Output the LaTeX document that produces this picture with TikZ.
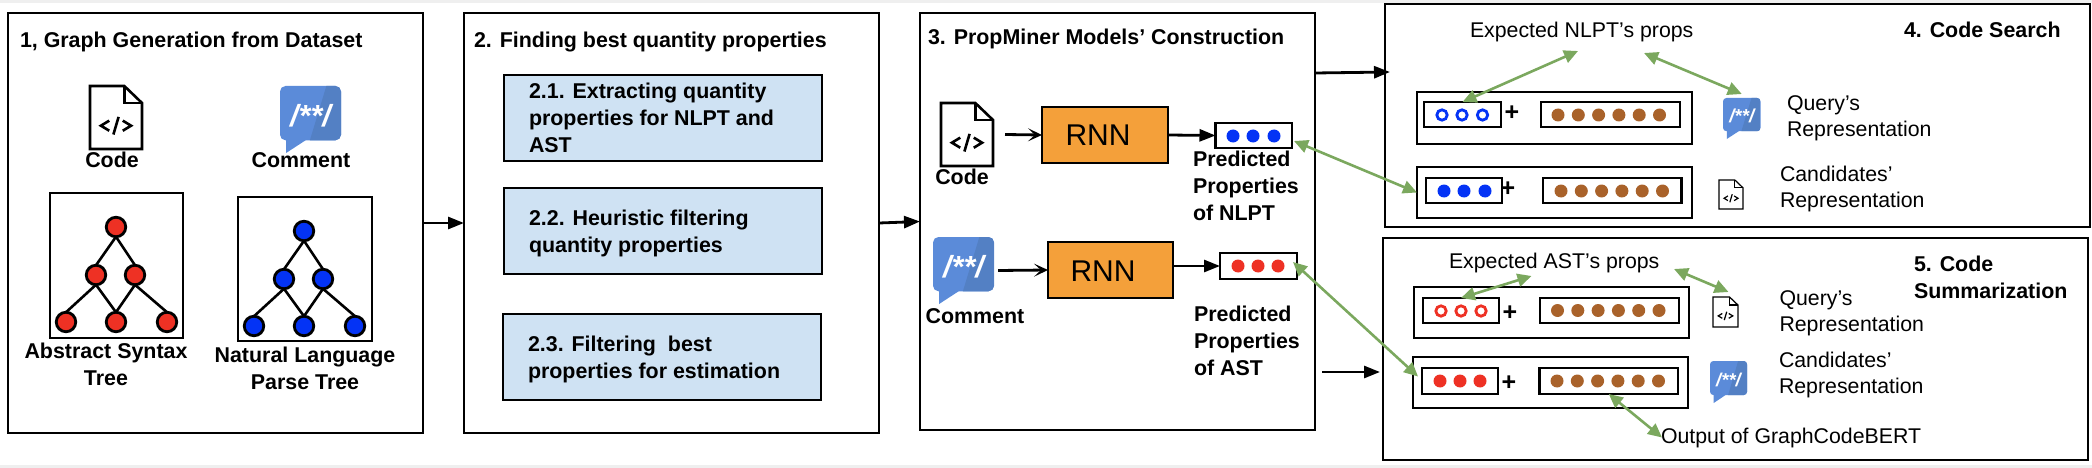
\documentclass[tikz,border=0pt]{standalone}
\usepackage{fontspec}
\setmainfont{Liberation Sans}
\usetikzlibrary{arrows.meta,calc,fit}
\definecolor{edgegrey}{HTML}{EFEFEF}
\definecolor{stepblue}{HTML}{CFE2F3}
\definecolor{rnnorange}{HTML}{F4A03A}
\definecolor{astred}{HTML}{EE3124}
\definecolor{nlptblue}{HTML}{0433F5}
\definecolor{bertbrown}{HTML}{A9622A}
\definecolor{linkgreen}{HTML}{7BA85E}
\definecolor{iconblue}{HTML}{5B8BD9}
\definecolor{icondark}{HTML}{5380C4}
\tikzset{
  bx/.style={draw=black,line width=2.8pt,inner sep=0pt,outer sep=0pt,rectangle},
  bt/.style={font=\fontsize{21.4}{26.7}\selectfont\bfseries,anchor=base west,inner sep=0pt,outer sep=0pt,align=left},
  rt/.style={font=\fontsize{21.3}{26}\selectfont,anchor=base west,inner sep=0pt,outer sep=0pt,align=left},
  plus/.style={font=\fontsize{25}{25}\selectfont\bfseries,anchor=center,inner sep=0pt,outer sep=0pt},
  treedot/.style={circle,draw=black,line width=2.8pt,minimum size=19.5pt,inner sep=0pt,outer sep=0pt},
  treeline/.style={line width=2.6pt,black},
  flow/.style={line width=2.8pt,-{Triangle[length=16pt,width=12pt]}},
  feed/.style={line width=2.8pt,-{Stealth[length=14pt,width=13pt,inset=7pt]}},
  link/.style={line width=2.6pt,linkgreen,{Triangle[length=14pt,width=13pt]}-{Triangle[length=14pt,width=13pt]}},
}
% box given by its corners
\newcommand\bxat[6][]{\node[bx,#1,fit={(#3,#4) (#5,#6)}] (#2) {};}
% document icon
\newcommand\codeicon[5]{%
  \node[inner sep=0pt,outer sep=0pt,fit={(#2,#3) (#2+#4,#3+#5)}] (#1) {};
  \begin{scope}[shift={(#2,#3)},x=#4pt,y=-#5pt,line width={.05*#4 pt},line join=miter]
    \draw (0,0)--(.66,0)--(1,.27)--(1,1)--(0,1)--cycle;
    \draw (.66,0)--(.66,.27)--(1,.27);
    \draw (.37,.55)--(.21,.63)--(.37,.71);
    \draw (.63,.55)--(.79,.63)--(.63,.71);
    \draw (.55,.49)--(.45,.77);
  \end{scope}}
% speech-bubble icon
\newcommand\commenticon[5]{%
  \node[inner sep=0pt,outer sep=0pt,fit={(#2,#3) (#2+#4,#3+#5)}] (#1) {};
  \begin{scope}[shift={(#2,#3)},x=#4pt,y=-#5pt]
    \fill[iconblue,rounded corners={.09*#4 pt}] (0,0) rectangle (1,.81);
    \fill[iconblue] (.1,.75)--(.1,1)--(.42,.81)--cycle;
    \begin{scope}
      \clip[rounded corners={.09*#4 pt}] (0,0) rectangle (1,.81);
      \fill[icondark] (.76,0)--(1,0)--(1,.81)--(.49,.81)--cycle;
    \end{scope}
    \pgfmathsetmacro\iconfs{.50*#4}
    \node[text=white,inner sep=0pt,font=\fontsize{\iconfs}{\iconfs}\selectfont\bfseries\itshape] (#1txt) at (.5,.44) {/**/};
  \end{scope}}
% tree of seven circles
\newcommand\treeat[4]{%
  \begin{scope}[shift={(#2,#3)}]
    \node[treedot,fill=#4] (#1r) at (116,227) {};
    \node[treedot,fill=#4] (#1a) at (96,275) {};
    \node[treedot,fill=#4] (#1b) at (135,275) {};
    \node[treedot,fill=#4] (#1c) at (66,322) {};
    \node[treedot,fill=#4] (#1d) at (116,322) {};
    \node[treedot,fill=#4] (#1e) at (167,322) {};
    \draw[treeline] (#1r.south)--(#1a.north) (#1r.south)--(#1b.north)
      (#1a.south)--(#1c.north) (#1a.south)--(#1d.north)
      (#1b.south)--(#1d.north) (#1b.south)--(#1e.north);
  \end{scope}}
% row of three dots: solid
\newcommand\soliddots[5]{\foreach \dx in {#1,#2,#3}{\fill[#5] (\dx,#4) circle[radius=6.5pt];}}
% row of three rings
\newcommand\ringdots[5]{\foreach \dx in {#1,#2,#3}{\draw[#5,line width=2.8pt,fill=white] (\dx,#4) circle[radius=5.2pt];}}
% row of six brown dots
\newcommand\browndots[2]{\foreach \dn in {0,...,5}{\fill[bertbrown] (#1+20.3*\dn,#2) circle[radius=6.5pt];}}

\begin{document}
\begin{tikzpicture}[x=1pt,y=-1pt]
\useasboundingbox (0,0) rectangle (2092,468);
\fill[edgegrey] (0,0) rectangle (2092,3);
\fill[edgegrey] (0,465) rectangle (2092,468);

% ---- panels
\bxat{panelA}{8}{13}{423}{433}
\bxat{panelB}{464}{13}{879}{433}
\bxat{panelC}{920}{13}{1315}{430}
\bxat{panelD}{1385}{4}{2090}{227}
\bxat{panelE}{1383}{238}{2088}{460}

% ---- panel 1
\node[bt] (titleA) at (20,48) {1, Graph Generation from Dataset};
\codeicon{codeA}{90}{86}{52}{63}
\node[bt,anchor=base] (codeAl) at (112,167) {Code};
\commenticon{commA}{280}{86}{61}{67}
\node[bt,anchor=base] (commAl) at (301,167) {Comment};
\bxat{treeboxA}{50}{193}{183}{338}
\treeat{ta}{0}{0}{astred}
\bxat{treeboxB}{238}{197}{372}{341}
\treeat{tb}{188}{4}{nlptblue}
\node[bt,align=center,anchor=base] (astl) at (106,385) {Abstract Syntax\\Tree};
\node[bt,align=center,anchor=base] (nlptl) at (305,389) {Natural Language\\Parse Tree};

% ---- panel 2
\node[bt] (titleB) at (474,48) {2. Finding best quantity properties};
\bxat[fill=stepblue]{stepA}{504}{75}{822}{161}
\bxat[fill=stepblue]{stepB}{504}{188}{822}{274}
\bxat[fill=stepblue]{stepC}{503}{314}{821}{400}
\node[bt] (stepAt) at (529,152) {2.1. Extracting quantity\\properties for NLPT and\\AST};
\node[bt] (stepBt) at (529,252) {2.2. Heuristic filtering\\quantity properties};
\node[bt] (stepCt) at (528,378) {2.3. Filtering~ best\\properties for estimation};

% ---- panel 3
\node[bt] (titleC) at (928,45) {3. PropMiner Models’ Construction};
\codeicon{codeB}{941}{103}{52}{63}
\node[bt,anchor=base] (codeBl) at (962,184) {Code};
\commenticon{commB}{933}{237}{61}{67}
\node[bt,anchor=base] (commBl) at (975,323) {Comment};
\bxat[fill=rnnorange]{rnnA}{1042}{107}{1168}{163}
\bxat[fill=rnnorange]{rnnB}{1048}{242}{1173}{298}
\node[font=\fontsize{30}{30}\selectfont,anchor=base,inner sep=0pt] (rnnAt) at (1098,145) {RNN};
\node[font=\fontsize{30}{30}\selectfont,anchor=base,inner sep=0pt] (rnnBt) at (1103,281) {RNN};
\bxat[fill=white]{predN}{1215.5}{123}{1292}{148}
\soliddots{1233}{1253}{1274}{136}{nlptblue}
\bxat[fill=white]{predA}{1220}{253}{1297}{279}
\soliddots{1238}{1258}{1278}{266}{astred}
\node[bt] (predNl) at (1193,220) {Predicted\\Properties\\of NLPT};
\node[bt] (predAl) at (1194,375) {Predicted\\Properties\\of AST};

% ---- panel 4
\node[rt] (expN) at (1470,38) {Expected NLPT’s props};
\node[bt] (titleD) at (1904,38) {4. Code Search};
\bxat{repQ}{1417}{92}{1692}{144}
\bxat{propsQ}{1424}{102}{1501}{127}
\ringdots{1442}{1462}{1482.5}{115}{nlptblue}
\node[plus] (plusQ) at (1512,113) {+};
\bxat{bertQ}{1541}{102}{1680}{127}
\browndots{1558}{115}
\commenticon{commQ}{1723}{98}{37.5}{41}
\node[rt] (qrepl) at (1787,136) {Query’s\\Representation};
\bxat{repC}{1417}{167}{1692}{218}
\bxat{propsC}{1426}{178}{1502}{203}
\soliddots{1444}{1464}{1485}{191}{nlptblue}
\node[plus] (plusC) at (1508,189) {+};
\bxat{bertC}{1543}{178}{1681.5}{203}
\browndots{1561}{191}
\codeicon{codeC}{1719}{180}{24}{29}
\node[rt] (crepl) at (1780,207) {Candidates’\\Representation};

% ---- panel 5
\node[rt] (expA) at (1449,268) {Expected AST’s props};
\node[bt] (titleE) at (1914,298) {5. Code\\Summarization};
\bxat{repS}{1414}{287}{1689}{338}
\bxat{propsS}{1423}{298}{1499}{323}
\ringdots{1441}{1461}{1481}{311}{astred}
\node[plus] (plusS) at (1510,313) {+};
\bxat{bertS}{1540}{298}{1679}{323}
\browndots{1557.5}{310.5}
\codeicon{codeS}{1713}{297}{25}{30}
\node[rt] (srepl) at (1779.5,331) {Query’s\\Representation};
\bxat{repT}{1413}{357}{1688}{408}
\bxat{propsT}{1422}{368}{1498}{394}
\soliddots{1440}{1460}{1480}{381}{astred}
\node[plus] (plusT) at (1509,383) {+};
\bxat{bertT}{1539.5}{368}{1678}{394}
\browndots{1557}{381}
\commenticon{commT}{1710}{361}{37}{42}
\node[rt] (trepl) at (1779,393) {Candidates’\\Representation};
\node[rt] (bertl) at (1661,443) {Output of GraphCodeBERT};

% ---- free ends
\coordinate (expNa) at (1578,51);
\coordinate (expNb) at (1644,53);
\coordinate (expAa) at (1531.5,276);
\coordinate (expAb) at (1674,269);
\coordinate (outC) at (1322,372);
\coordinate (intoE) at (1380,372);
\coordinate (outD) at (1315,73);
\coordinate (intoD) at (1390,72);

% ---- black connectors
\draw[flow] (panelA.east)--(panelB.west);
\draw[flow] (panelB.east)--(panelC.west);
\draw[flow] (outD)--(intoD);
\draw[flow] (outC)--(intoE);
\draw[feed] ($(codeB.east)+(12,0)$)--(rnnA.west);
\draw[feed] ($(commB.east)+(4,0)$)--(rnnB.west);
\draw[flow] (rnnA.east)--(predN.west);
\draw[flow] (rnnB.east |- predA.west)--(predA.west);

% ---- green links
\draw[link] ($(predN.south east)+(2,-7)$)--(repC.west);
\draw[link] ($(predA.east)+(-4,-4)$)--($(repT.west)+(5,-6)$);
\draw[link] (propsQ.north)--(expNa);
\draw[link] (expNb)--($(commQ.north)+(0,-4)$);
\draw[link] (propsS.north)--(expAa);
\draw[link] (expAb)--($(codeS.north)+(3,-5)$);
\draw[link] (bertT.south)--($(bertl.west)+(1,0)$);
\end{tikzpicture}
\end{document}
